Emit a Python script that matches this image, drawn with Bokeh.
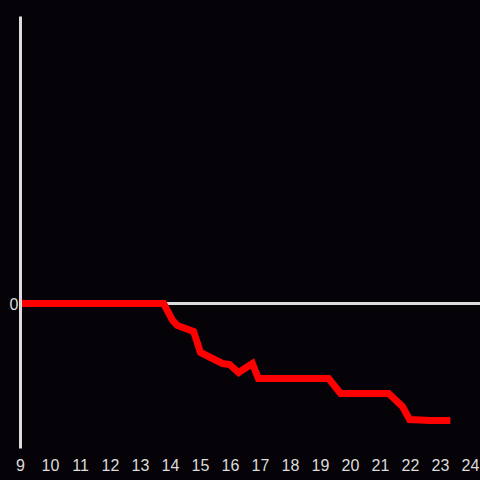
from bokeh.plotting import figure
from bokeh.models import Range1d, Span, FixedTicker
from bokeh.embed import file_html
from bokeh.resources import INLINE

# data
hours = [9.0, 13.77, 14.07, 14.23, 14.77, 15.0, 15.73, 15.97, 16.27, 16.73, 16.93,
         19.27, 19.67, 21.27, 21.73, 21.97, 22.67, 23.33]
values = [0.0, 0.0, -1.7, -2.2, -2.8, -4.9, -6.0, -6.1, -6.9, -6.0, -7.5,
          -7.5, -9.0, -9.0, -10.3, -11.6, -11.7, -11.7]
x_ticks = list(range(9, 25))
y_ticks = [0]

BG = "#050307"
FG = "#dcdcdc"

p = figure(width=480, height=480, output_backend="svg", toolbar_location=None,
           x_range=Range1d(9, 24.333), y_range=Range1d(-14.5, 28.7),
           background_fill_color=BG, border_fill_color=BG,
           min_border_left=20, min_border_right=0, min_border_top=16, min_border_bottom=32)
p.outline_line_color = None
p.grid.visible = False

p.xaxis.ticker = FixedTicker(ticks=x_ticks)
p.xaxis.axis_line_color = None
p.xaxis.major_tick_line_color = None
p.xaxis.minor_tick_line_color = None
p.xaxis.major_label_text_color = FG
p.xaxis.major_label_text_font = "Liberation Sans"
p.xaxis.major_label_text_font_size = "16px"
p.xaxis.major_label_standoff = 4

p.yaxis.ticker = FixedTicker(ticks=y_ticks)
p.yaxis.axis_line_color = FG
p.yaxis.axis_line_width = 3
p.yaxis.major_tick_line_color = None
p.yaxis.minor_tick_line_color = None
p.yaxis.major_tick_out = 0
p.yaxis.major_tick_in = 0
p.yaxis.major_label_text_color = FG
p.yaxis.major_label_text_font = "Liberation Sans"
p.yaxis.major_label_text_font_size = "16px"
p.yaxis.major_label_standoff = 2

p.add_layout(Span(location=0, dimension="width", line_color=FG, line_width=3, level="underlay"))
p.line(hours, values, line_color="#ff0000", line_width=7, line_join="miter")

html = file_html(p, INLINE)
html = html.replace("<head>", "<head><style>html,body{background:%s;}</style>" % BG, 1)
open("out.html", "w").write(html)
